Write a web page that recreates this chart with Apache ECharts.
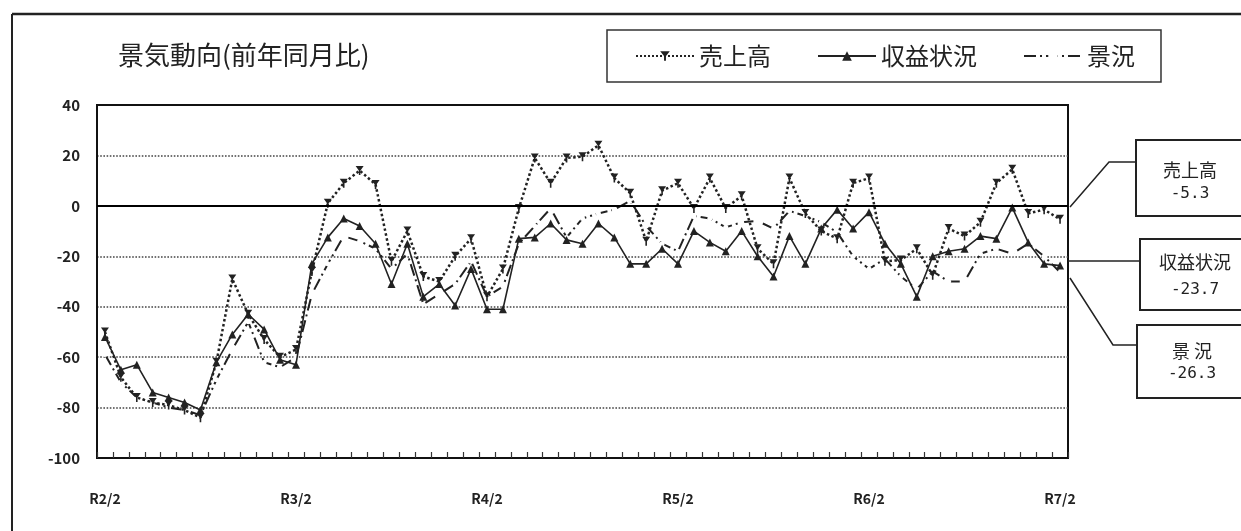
<!DOCTYPE html>
<html>
<head>
<meta charset="utf-8">
<title>景気動向</title>
<script src="https://cdn.jsdelivr.net/npm/echarts@6/dist/echarts.min.js"></script>
<style>
  html, body { margin: 0; padding: 0; background: #fff; }
  #chart { width: 1241px; height: 531px; }
</style>
</head>
<body>
<div id="chart"></div>
<script>
// 月（R2/2 〜 R7/2）
var months = [
  'R2/2','R2/3','R2/4','R2/5','R2/6','R2/7','R2/8','R2/9','R2/10','R2/11','R2/12',
  'R3/1','R3/2','R3/3','R3/4','R3/5','R3/6','R3/7','R3/8','R3/9','R3/10','R3/11','R3/12',
  'R4/1','R4/2','R4/3','R4/4','R4/5','R4/6','R4/7','R4/8','R4/9','R4/10','R4/11','R4/12',
  'R5/1','R5/2','R5/3','R5/4','R5/5','R5/6','R5/7','R5/8','R5/9','R5/10','R5/11','R5/12',
  'R6/1','R6/2','R6/3','R6/4','R6/5','R6/6','R6/7','R6/8','R6/9','R6/10','R6/11','R6/12',
  'R7/1','R7/2'
];
// 売上高
var sales = [
  -50, -68, -76, -78, -79, -81, -84, -62, -29, -43, -53, -60,
  -57, -26, 1, 9, 14, 8.5, -22, -10, -28, -30, -20, -13,
  -36, -25, -1, 19, 9, 19, 19.5, 24, 11, 5, -14, 6,
  9, -1, 11, -1, 4, -17, -23, 11, -3, -10, -13, 9,
  11, -22, -21.5, -17, -27.5, -9, -12, -6.5, 9, 14.5, -3, -1.5,
  -5.3
];
// 収益状況
var profit = [
  -52, -65, -63, -74, -76, -78, -81, -62, -51, -43, -49, -61,
  -63, -23, -12.5, -5, -8, -15, -31, -15, -36, -31, -39.5, -25,
  -41, -41, -13, -12.5, -7, -13.5, -15, -7, -12.5, -23, -23, -17,
  -23, -10, -14.5, -18, -10, -20, -28, -12, -23, -9, -1.5, -9,
  -2.5, -15, -23, -36, -20, -18, -17, -12, -13, -0.7, -14.5, -23,
  -23.7
];
// 景況
var business = [
  -59, -70, -76, -78, -80, -81, -83, -69, -57, -46, -62, -64,
  -60, -35, -23, -12, -14, -17, -25, -19, -39, -35, -31, -22,
  -36, -32, -15, -8, -1, -12.5, -5, -3, -1.5, 2, -8, -15,
  -18, -4, -5, -8.5, -6.5, -6, -9, -2, -4, -6.5, -10.5, -20,
  -25, -21, -28, -33, -26, -30, -30, -19, -17, -19, -15, -20,
  -26.3
];
var yMin = -100, yMax = 40, yStep = 20;

var font = '"Noto Sans CJK JP", "Noto Sans", sans-serif';
var ink = '#222';
var last = function (arr) { return String(arr[arr.length - 1]); };

var chart = echarts.init(document.getElementById('chart'));

var option = {
  backgroundColor: '#fff',
  animation: false,
  grid: {
    left: 97, right: 173, top: 105, bottom: 73,
    show: true, borderColor: '#111', borderWidth: 2,
    backgroundColor: 'transparent'
  },
  legend: {
    left: 607, top: 30,
    padding: [14, 26, 14, 28],
    borderColor: '#333', borderWidth: 1.5,
    itemWidth: 58, itemHeight: 12, itemGap: 46,
    textStyle: { fontFamily: font, fontSize: 24, color: ink },
    data: ['売上高', '収益状況', '景況']
  },
  xAxis: {
    type: 'category',
    data: months,
    boundaryGap: true,
    axisLine: { show: true, onZero: false, lineStyle: { color: '#111', width: 2 } },
    axisTick: { show: true, inside: true, interval: 0, length: 6, lineStyle: { color: '#333', width: 1.2 } },
    axisLabel: {
      interval: function (i) { return i % 12 === 0; },
      margin: 34,
      fontFamily: font, fontSize: 14, fontWeight: 'bold', color: ink
    },
    splitLine: { show: false }
  },
  yAxis: {
    type: 'value',
    min: yMin, max: yMax, interval: yStep,
    axisLine: { show: true, lineStyle: { color: '#111', width: 2 } },
    axisTick: { show: false },
    axisLabel: { margin: 17, fontFamily: font, fontSize: 15, fontWeight: 'bold', color: ink },
    splitLine: {
      show: true, showMinLine: false, showMaxLine: false,
      lineStyle: { color: '#444', type: 'dotted', width: 1.6 }
    }
  },
  series: [
    {
      name: '売上高',
      type: 'line',
      data: sales,
      symbol: 'path://M0,0 L10,0 L5,7 Z M4,5 L6,5 L6,11 L4,11 Z',
      symbolSize: [8, 9],
      itemStyle: { color: ink },
      lineStyle: { color: ink, type: 'dotted', width: 2.5 },
      z: 3,
      markLine: {
        silent: true, symbol: 'none',
        label: { show: false },
        lineStyle: { color: '#000', type: 'solid', width: 2 },
        data: [{ yAxis: 0 }]
      }
    },
    {
      name: '収益状況',
      type: 'line',
      data: profit,
      symbol: 'triangle',
      symbolSize: 8,
      itemStyle: { color: ink },
      lineStyle: { color: ink, type: 'solid', width: 1.6 },
      z: 4
    },
    {
      name: '景況',
      type: 'line',
      data: business,
      symbol: 'circle',
      symbolSize: 5,
      itemStyle: { color: '#fff', borderColor: '#fff', borderWidth: 0 },
      lineStyle: { color: ink, type: [12, 4, 2, 4], width: 2 },
      z: 2
    }
  ],
  graphic: [
    // outer frame
    { type: 'line', shape: { x1: 12, y1: 14, x2: 1241, y2: 14 }, style: { stroke: '#222', lineWidth: 2.5 } },
    { type: 'line', shape: { x1: 12, y1: 14, x2: 12, y2: 531 }, style: { stroke: '#222', lineWidth: 2 } },
    // title
    {
      type: 'text', left: 118, top: 42,
      style: { text: '景気動向(前年同月比)', font: '26px ' + font, fill: ink }
    },
    // leader lines
    { type: 'polyline', shape: { points: [[1070, 207], [1109, 162], [1136, 162]] }, style: { stroke: '#222', lineWidth: 1.5, fill: null } },
    { type: 'polyline', shape: { points: [[1068, 261], [1140, 261]] }, style: { stroke: '#222', lineWidth: 1.5, fill: null } },
    { type: 'polyline', shape: { points: [[1070, 278], [1113, 345], [1137, 345]] }, style: { stroke: '#222', lineWidth: 1.5, fill: null } },
    // value boxes
    { type: 'rect', shape: { x: 1136, y: 140, width: 120, height: 76 }, style: { stroke: '#222', lineWidth: 2, fill: '#fff' } },
    { type: 'text', x: 1190, y: 170, style: { text: '売上高', font: '18px ' + font, fill: ink, align: 'center', verticalAlign: 'middle' } },
    { type: 'text', x: 1190, y: 194, style: { text: last(sales), font: '16px "DejaVu Sans Mono", monospace', fill: ink, align: 'center', verticalAlign: 'middle' } },
    { type: 'rect', shape: { x: 1140, y: 239, width: 120, height: 71 }, style: { stroke: '#222', lineWidth: 2, fill: '#fff' } },
    { type: 'text', x: 1195, y: 262, style: { text: '収益状況', font: '18px ' + font, fill: ink, align: 'center', verticalAlign: 'middle' } },
    { type: 'text', x: 1195, y: 290, style: { text: last(profit), font: '16px "DejaVu Sans Mono", monospace', fill: ink, align: 'center', verticalAlign: 'middle' } },
    { type: 'rect', shape: { x: 1137, y: 325, width: 120, height: 73 }, style: { stroke: '#222', lineWidth: 2, fill: '#fff' } },
    { type: 'text', x: 1192, y: 351, style: { text: '景 況', font: '18px ' + font, fill: ink, align: 'center', verticalAlign: 'middle' } },
    { type: 'text', x: 1192, y: 374, style: { text: last(business), font: '16px "DejaVu Sans Mono", monospace', fill: ink, align: 'center', verticalAlign: 'middle' } }
  ]
};

chart.setOption(option);
</script>
</body>
</html>
